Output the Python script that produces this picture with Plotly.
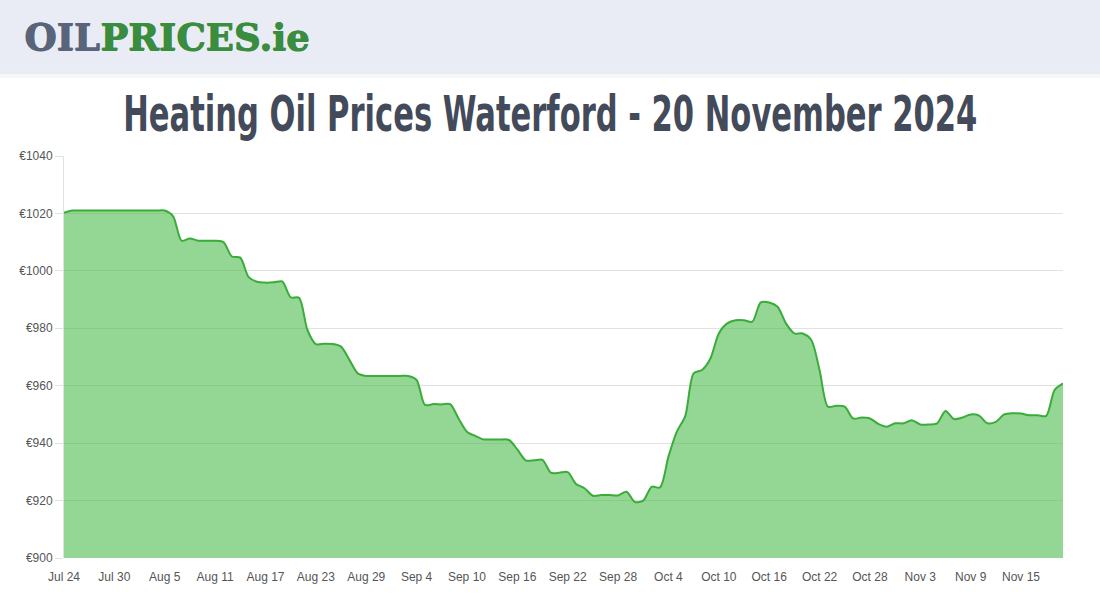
import plotly.graph_objects as go
import pandas as pd

start_date = "2024-07-24"
end_date = "2024-11-20"
prices = [
    1020.2, 1021, 1021, 1021, 1021, 1021, 1021, 1021, 1021, 1021,
    1021, 1021, 1021, 1019, 1010.5, 1011.3, 1010.5, 1010.5, 1010.5, 1010,
    1005, 1004.6, 997.8, 996.2, 995.9, 996, 996.3, 990.8, 990.6, 979.4,
    974.5, 974.6, 974.5, 973.6, 969, 964.3, 963.4, 963.4, 963.4, 963.4,
    963.4, 963.4, 962, 953.3, 953.6, 953.5, 953.6, 948.6, 944, 942.5,
    941.3, 941.3, 941.3, 941.1, 937.8, 934, 934, 934.2, 929.7, 929.7,
    929.9, 925.8, 924.3, 921.7, 921.9, 921.9, 921.8, 923.1, 919.5, 920,
    924.8, 924.6, 935.3, 944, 949.4, 964.3, 965.5, 969.5, 978.2, 981.7,
    982.8, 982.8, 982.3, 989, 989, 987.5, 981.7, 978.2, 978.2, 976,
    965.5, 952.7, 953, 952.7, 948.6, 948.9, 948.6, 946.7, 945.7, 946.9,
    946.9, 948, 946.5, 946.5, 946.9, 951.2, 948.4, 948.9, 950, 949.6,
    946.9, 947.4, 950, 950.4, 950.3, 949.7, 949.7, 949.5, 958.5, 960.8,
]
tick_dates = ["2024-07-24", "2024-07-30", "2024-08-05", "2024-08-11", "2024-08-17",
              "2024-08-23", "2024-08-29", "2024-09-04", "2024-09-10", "2024-09-16",
              "2024-09-22", "2024-09-28", "2024-10-04", "2024-10-10", "2024-10-16",
              "2024-10-22", "2024-10-28", "2024-11-03", "2024-11-09", "2024-11-15"]
tick_labels = ["Jul 24", "Jul 30", "Aug 5", "Aug 11", "Aug 17", "Aug 23", "Aug 29",
               "Sep 4", "Sep 10", "Sep 16", "Sep 22", "Sep 28", "Oct 4", "Oct 10",
               "Oct 16", "Oct 22", "Oct 28", "Nov 3", "Nov 9", "Nov 15"]
y_ticks = [900, 920, 940, 960, 980, 1000, 1020, 1040]
y_labels = ["€" + str(v) for v in y_ticks]
title_text = "Heating Oil Prices Waterford - 20 November 2024"
logo_part1 = "OIL"
logo_part2 = "PRICES.ie"

dates = pd.date_range(start_date, end_date, freq="D")

fig = go.Figure()
fig.add_trace(go.Scatter(
    x=dates, y=prices, mode="lines",
    line=dict(color="rgb(58,172,58)", width=2, shape="spline", smoothing=0.8),
    fill="tozeroy", fillcolor="rgba(76,187,76,0.6)",
    hoverinfo="x+y", showlegend=False,
))

W, H = 1100, 600
ml, mr, mt, mb = 64, 37, 156, 42
pw, ph = W - ml - mr, H - mt - mb

def px_to_paper_x(px):
    return (px - ml) / pw

def px_to_paper_y(py):
    return (H - mb - py) / ph

shapes = [
    dict(type="rect", xref="paper", yref="paper",
         x0=px_to_paper_x(0), x1=px_to_paper_x(W),
         y0=px_to_paper_y(78), y1=px_to_paper_y(70),
         fillcolor="rgba(205,210,220,0.18)", line=dict(width=0), layer="below"),
    dict(type="rect", xref="paper", yref="paper",
         x0=px_to_paper_x(0), x1=px_to_paper_x(W),
         y0=px_to_paper_y(74), y1=px_to_paper_y(70),
         fillcolor="rgba(205,210,220,0.25)", line=dict(width=0), layer="below"),
    dict(type="rect", xref="paper", yref="paper",
         x0=px_to_paper_x(0), x1=px_to_paper_x(W),
         y0=px_to_paper_y(70), y1=px_to_paper_y(0),
         fillcolor="#e9ecf4", line=dict(width=0), layer="below"),
]

annotations = [
    dict(xref="paper", yref="paper", x=px_to_paper_x(22), y=px_to_paper_y(37),
         xanchor="left", yanchor="middle", showarrow=False,
         text="<b>" + logo_part1 + "</b>",
         font=dict(family="DejaVu Serif", size=37, color="#59637a",
                   shadow="1px 0px 0px #59637a, 0.5px 0.5px 0px #59637a")),
    dict(xref="paper", yref="paper", x=px_to_paper_x(98), y=px_to_paper_y(37),
         xanchor="left", yanchor="middle", showarrow=False,
         text="<b>" + logo_part2 + "</b>",
         font=dict(family="DejaVu Serif", size=37, color="#3a8c3e",
                   shadow="1px 0px 0px #3a8c3e, 0.5px 0.5px 0px #3a8c3e")),
    dict(xref="paper", yref="paper", x=px_to_paper_x(550), y=px_to_paper_y(114),
         xanchor="center", yanchor="middle", showarrow=False,
         text=title_text,
         font=dict(family="DejaVu Sans Condensed, DejaVu Sans", size=34, color="#434a5a", weight=600)),
]

fig.update_layout(
    width=W, height=H,
    margin=dict(l=ml, r=mr, t=mt, b=mb),
    paper_bgcolor="white", plot_bgcolor="white",
    shapes=shapes, annotations=annotations,
    xaxis=dict(
        type="date", range=[start_date, end_date],
        tickvals=tick_dates, ticktext=tick_labels,
        showgrid=False, zeroline=False, showline=False,
        ticks="outside", ticklen=8, tickcolor="rgba(0,0,0,0)",
        tickfont=dict(family="Liberation Sans", size=12, color="#555"),
    ),
    yaxis=dict(
        range=[900, 1040], tickvals=y_ticks, ticktext=y_labels,
        showgrid=True, gridcolor="#e2e2e2", gridwidth=1,
        zeroline=False, showline=True, linecolor="#e2e2e2",
        ticks="outside", ticklen=8, tickcolor="#e2e2e2",
        tickfont=dict(family="Liberation Sans", size=12, color="#555"),
    ),
)

post = """
document.body.style.margin='0';
var els = document.querySelectorAll('.annotation-text');
els.forEach(function(el){
  if (el.textContent.indexOf('Heating Oil') === 0) {
    el.style.transformBox = 'fill-box';
    el.style.transformOrigin = 'center';
    el.style.transform = 'scaleY(1.45)';
  }
});
"""

fig.write_html("out.html", config={"displayModeBar": False}, post_script=post)
